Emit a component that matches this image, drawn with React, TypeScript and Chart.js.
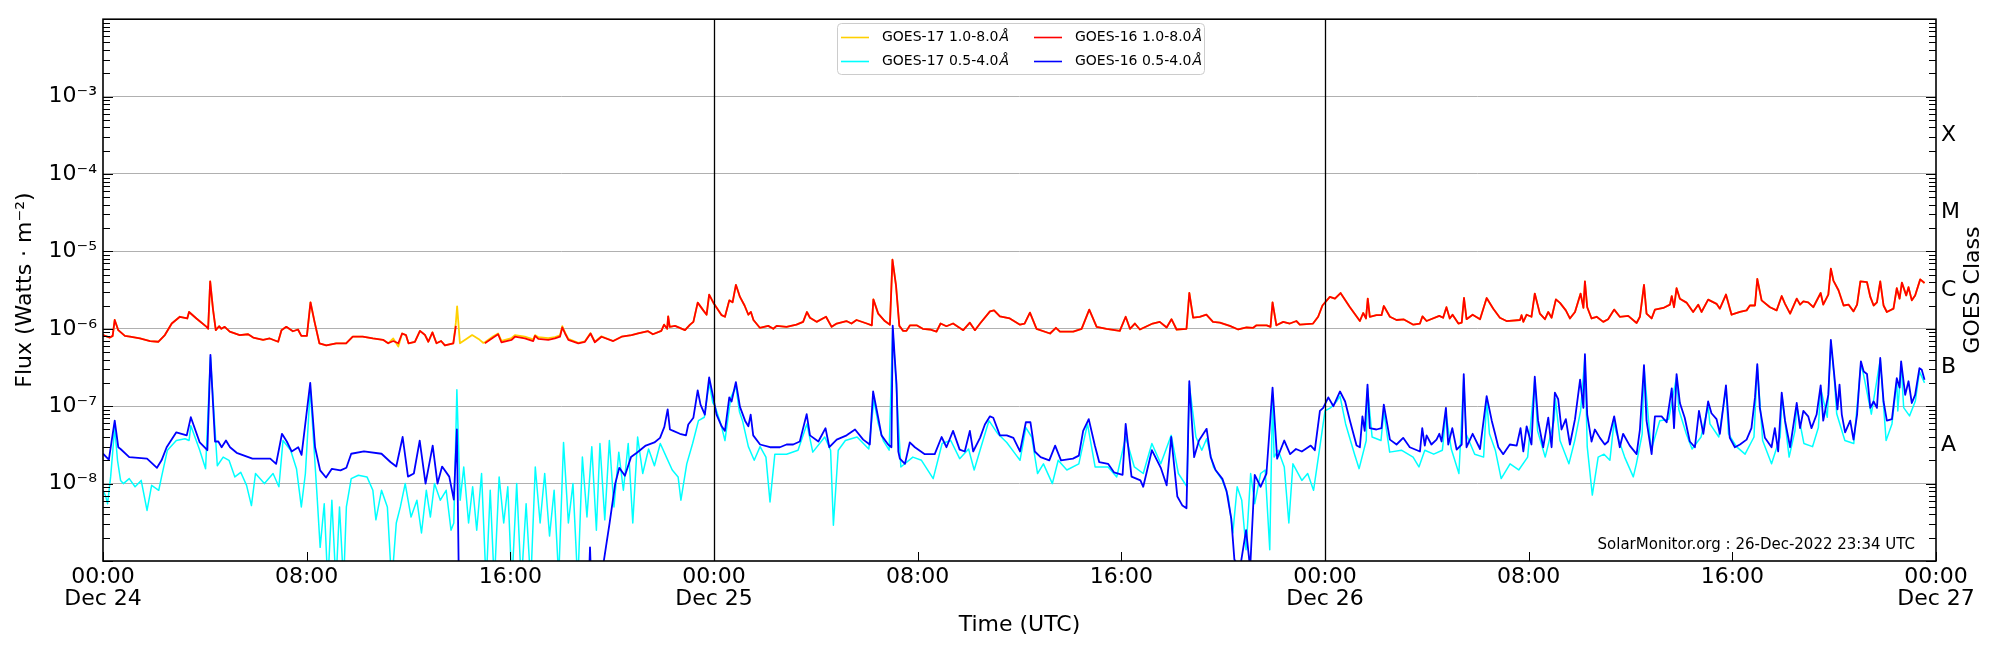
import React, { useEffect, useRef } from 'react';
import { Chart, registerables } from 'chart.js';

Chart.register(...registerables);

// hours since 2022-12-24 00:00 UTC, long channel (1.0-8.0 A)
const longTimes = [
  0, 0.27, 0.38, 0.46, 0.6, 0.86, 1.06, 1.45, 1.85, 2.17,
  2.43, 2.7, 3.02, 3.31, 3.38, 3.67, 4.07, 4.13, 4.21, 4.32,
  4.43, 4.56, 4.65, 4.78, 4.98, 5.37, 5.7, 5.9, 6.29, 6.55,
  6.88, 7.01, 7.2, 7.46, 7.66, 7.79, 8.01, 8.15, 8.31, 8.5,
  8.77, 9.16, 9.55, 9.81, 10.2, 10.6, 11.0, 11.2, 11.4, 11.6,
  11.75, 11.9, 12.0, 12.25, 12.45, 12.65, 12.78, 12.94, 13.1, 13.28,
  13.43, 13.76, 13.86, 13.91, 14.02, 14.3, 14.5, 14.75, 14.93, 15.0,
  15.33, 15.52, 15.65, 16.05, 16.18, 16.57, 16.9, 16.97, 17.1, 17.49,
  17.75, 17.95, 18.04, 18.15, 18.28, 18.67, 18.93, 19.15, 19.32, 19.58,
  20.04, 20.37, 20.76, 21.02, 21.41, 21.6, 21.93, 22.04, 22.16, 22.2,
  22.26, 22.47, 22.86, 23.06, 23.19, 23.36, 23.58, 23.71, 23.81, 24.0,
  24.3, 24.43, 24.6, 24.73, 24.86, 25.02, 25.2, 25.35, 25.45, 25.55,
  25.8, 26.13, 26.33, 26.46, 26.85, 27.24, 27.5, 27.65, 27.77, 28.03,
  28.4, 28.62, 28.82, 29.2, 29.4, 29.6, 30.0, 30.2, 30.26, 30.45,
  30.71, 30.91, 31.01, 31.15, 31.28, 31.43, 31.56, 31.7, 31.96, 32.2,
  32.48, 32.74, 32.9, 33.13, 33.39, 33.79, 34.05, 34.25, 34.45, 34.84,
  35.0, 35.23, 35.62, 36.02, 36.2, 36.41, 36.67, 37.2, 37.43, 37.59,
  38.11, 38.44, 38.74, 39.03, 39.42, 39.94, 40.17, 40.34, 40.53, 40.73,
  41.23, 41.51, 41.78, 41.97, 42.17, 42.56, 42.67, 42.82, 43.08, 43.34,
  43.6, 43.87, 44.26, 44.59, 44.92, 45.18, 45.31, 45.71, 45.86, 45.94,
  46.09, 46.36, 46.62, 46.88, 47.01, 47.53, 47.73, 47.9, 48.19, 48.39,
  48.61, 48.98, 49.37, 49.5, 49.61, 49.68, 49.76, 50.02, 50.22, 50.31,
  50.55, 50.81, 51.1, 51.47, 51.73, 51.83, 51.99, 52.49, 52.64, 52.77,
  52.9, 53.01, 53.24, 53.37, 53.46, 53.56, 53.8, 54.09, 54.35, 54.61,
  54.87, 55.13, 55.66, 55.72, 55.79, 55.92, 56.11, 56.24, 56.44, 56.64,
  56.77, 56.9, 57.07, 57.23, 57.46, 57.62, 57.82, 58.04, 58.15, 58.21,
  58.3, 58.47, 58.67, 58.93, 59.12, 59.36, 59.58, 59.91, 60.24, 60.37,
  60.53, 60.63, 60.83, 60.96, 61.29, 61.55, 61.62, 61.71, 61.81, 61.94,
  62.2, 62.46, 62.66, 62.79, 63.05, 63.38, 63.51, 63.75, 63.97, 64.3,
  64.56, 64.69, 64.89, 64.98, 65.15, 65.48, 65.74, 65.94, 66.07, 66.27,
  66.53, 66.66, 66.79, 66.98, 67.18, 67.47, 67.57, 67.77, 67.87, 67.97,
  68.17, 68.37, 68.57, 68.76, 68.9, 69.03, 69.29, 69.42, 69.55, 69.68,
  69.81, 69.94, 70.07, 70.33, 70.46, 70.57, 70.66, 70.83, 70.92, 71.05,
  71.18, 71.38, 71.55,
];

const goes16Long = [
  8.3e-7, 7.7e-7, 8.1e-7, 1.3e-6, 9.6e-7, 8.1e-7, 7.9e-7, 7.5e-7, 6.95e-7, 6.8e-7,
  8.3e-7, 1.17e-6, 1.43e-6, 1.36e-6, 1.65e-6, 1.36e-6, 1.06e-6, 1.0e-6, 4.1e-6, 1.8e-6,
  9.6e-7, 1.08e-6, 1.0e-6, 1.06e-6, 9.2e-7, 8.3e-7, 8.5e-7, 7.7e-7, 7.2e-7, 7.5e-7,
  6.8e-7, 9.6e-7, 1.06e-6, 9.3e-7, 9.8e-7, 8.1e-7, 8.1e-7, 2.2e-6, 1.23e-6, 6.5e-7,
  6.1e-7, 6.5e-7, 6.5e-7, 7.9e-7, 7.9e-7, 7.5e-7, 7.2e-7, 6.5e-7, 6.95e-7, 6.5e-7,
  8.7e-7, 8.3e-7, 6.5e-7, 6.8e-7, 9.4e-7, 8.3e-7, 6.8e-7, 9.0e-7, 6.5e-7, 6.95e-7,
  6.1e-7, 6.5e-7, 1.09e-6, null, null, null, null, null, null, 6.5e-7,
  7.7e-7, 8.5e-7, 6.7e-7, 7.2e-7, 7.9e-7, 7.5e-7, 6.95e-7, 8.1e-7, 7.4e-7, 7.2e-7,
  7.5e-7, 7.9e-7, 1.04e-6, 8.7e-7, 7.2e-7, 6.5e-7, 6.8e-7, 8.7e-7, 6.7e-7, 7.9e-7,
  6.95e-7, 7.9e-7, 8.3e-7, 8.7e-7, 9.3e-7, 8.5e-7, 9.4e-7, 1.13e-6, 1.0e-6, 1.45e-6,
  1.06e-6, 1.09e-6, 9.6e-7, 1.13e-6, 1.23e-6, 2.18e-6, 1.73e-6, 1.52e-6, 2.77e-6, 2.1e-6,
  1.5e-6, 1.43e-6, 2.33e-6, 2.2e-6, 3.7e-6, 2.58e-6, 2.0e-6, 1.52e-6, 1.65e-6, 1.3e-6,
  1.03e-6, 1.09e-6, 1.0e-6, 1.09e-6, 1.06e-6, 1.13e-6, 1.23e-6, 1.65e-6, 1.39e-6, 1.23e-6,
  1.43e-6, 1.06e-6, 1.17e-6, 1.26e-6, 1.17e-6, 1.3e-6, 1.17e-6, 1.11e-6, 2.4e-6, 1.57e-6,
  1.26e-6, 1.13e-6, 7.8e-6, 3.6e-6, 1.09e-6, 9.4e-7, 9.4e-7, 1.11e-6, 1.11e-6, 1.0e-6,
  9.8e-7, 9.2e-7, 1.17e-6, 1.08e-6, 1.17e-6, 9.6e-7, 1.2e-6, 9.6e-7, 1.17e-6, 1.68e-6,
  1.73e-6, 1.45e-6, 1.36e-6, 1.13e-6, 1.17e-6, 1.62e-6, 1.0e-6, 8.7e-7, 1.03e-6, 9.2e-7,
  9.2e-7, 1.0e-6, 1.77e-6, 1.06e-6, 1.0e-6, 9.4e-7, 1.43e-6, 1.0e-6, 1.17e-6, 9.8e-7,
  1.17e-6, 1.23e-6, 1.04e-6, 1.33e-6, 9.8e-7, 1.0e-6, 2.9e-6, 1.39e-6, 1.43e-6, 1.52e-6,
  1.23e-6, 1.2e-6, 1.09e-6, 9.8e-7, 1.04e-6, 1.03e-6, 1.11e-6, 1.11e-6, 1.06e-6, 2.2e-6,
  1.11e-6, 1.23e-6, 1.17e-6, 1.26e-6, 1.13e-6, 1.17e-6, 1.43e-6, 2.0e-6, 2.58e-6, 2.45e-6,
  2.9e-6, 1.9e-6, 1.26e-6, 1.6e-6, 1.36e-6, 2.45e-6, 1.43e-6, 1.5e-6, 1.5e-6, 1.97e-6,
  1.43e-6, 1.3e-6, 1.32e-6, 1.13e-6, 1.17e-6, 1.45e-6, 1.26e-6, 1.47e-6, 1.39e-6, 1.9e-6,
  1.36e-6, 1.52e-6, 1.17e-6, 1.2e-6, 2.5e-6, 1.33e-6, 1.52e-6, 1.33e-6, 2.5e-6, 1.82e-6,
  1.39e-6, 1.26e-6, 1.3e-6, 1.5e-6, 1.23e-6, 1.52e-6, 1.43e-6, 2.85e-6, 1.57e-6, 1.33e-6,
  1.65e-6, 1.39e-6, 2.4e-6, 2.16e-6, 1.73e-6, 1.36e-6, 1.65e-6, 2.85e-6, 1.86e-6, 4.1e-6,
  1.9e-6, 1.36e-6, 1.43e-6, 1.23e-6, 1.33e-6, 1.77e-6, 1.43e-6, 1.47e-6, 1.19e-6, 1.43e-6,
  3.7e-6, 1.57e-6, 1.36e-6, 1.77e-6, 1.86e-6, 2.05e-6, 2.65e-6, 1.9e-6, 3.35e-6, 2.45e-6,
  2.18e-6, 1.65e-6, 2.05e-6, 1.65e-6, 2.38e-6, 2.1e-6, 1.82e-6, 2.77e-6, 1.52e-6, 1.65e-6,
  1.73e-6, 2.0e-6, 2.0e-6, 4.4e-6, 2.33e-6, 1.9e-6, 1.73e-6, 2.65e-6, 2.1e-6, 1.57e-6,
  2.45e-6, 2.05e-6, 2.26e-6, 2.2e-6, 1.9e-6, 2.9e-6, 2.05e-6, 2.77e-6, 6.0e-6, 4.2e-6,
  3.15e-6, 2.0e-6, 2.05e-6, 1.68e-6, 2.05e-6, 4.1e-6, 4.0e-6, 2.58e-6, 2.0e-6, 2.2e-6,
  4.1e-6, 2.0e-6, 1.65e-6, 1.82e-6, 3.35e-6, 2.45e-6, 3.95e-6, 2.7e-6, 3.45e-6, 2.33e-6,
  2.7e-6, 4.35e-6, 3.9e-6,
];

const goes17Long = [
  8.3e-7, 7.7e-7, 8.1e-7, 1.3e-6, 9.6e-7, 8.1e-7, 7.9e-7, 7.5e-7, 6.95e-7, 6.8e-7,
  8.3e-7, 1.17e-6, 1.43e-6, 1.36e-6, 1.65e-6, 1.36e-6, 1.06e-6, 1.0e-6, 4.1e-6, 1.8e-6,
  9.6e-7, 1.08e-6, 1.0e-6, 1.06e-6, 9.2e-7, 8.3e-7, 8.5e-7, 7.7e-7, 7.2e-7, 7.5e-7,
  6.8e-7, 9.6e-7, 1.06e-6, 9.3e-7, 9.8e-7, 8.1e-7, 8.1e-7, 2.2e-6, 1.23e-6, 6.5e-7,
  6.1e-7, 6.5e-7, 6.5e-7, 7.9e-7, 7.9e-7, 7.5e-7, 7.2e-7, 6.5e-7, 7.5e-7, 5.9e-7,
  8.7e-7, 8.3e-7, 6.5e-7, 6.8e-7, 9.4e-7, 8.3e-7, 6.8e-7, 9.0e-7, 6.5e-7, 6.95e-7,
  6.1e-7, 6.5e-7, 1.2e-6, 1.95e-6, 6.5e-7, 7.5e-7, 8.3e-7, 7.4e-7, 6.6e-7, 6.7e-7,
  8.0e-7, 8.7e-7, 7.0e-7, 7.6e-7, 8.3e-7, 7.9e-7, 7.3e-7, 8.3e-7, 7.8e-7, 7.6e-7,
  7.8e-7, 8.2e-7, 1.08e-6, 8.9e-7, 7.4e-7, 6.6e-7, 6.9e-7, 8.8e-7, 6.8e-7, 8.0e-7,
  6.95e-7, 7.9e-7, 8.3e-7, 8.7e-7, 9.3e-7, 8.5e-7, 9.4e-7, 1.13e-6, 1.0e-6, 1.45e-6,
  1.06e-6, 1.09e-6, 9.6e-7, 1.13e-6, 1.23e-6, 2.18e-6, 1.73e-6, 1.52e-6, 2.77e-6, 2.1e-6,
  1.5e-6, 1.43e-6, 2.33e-6, 2.2e-6, 3.7e-6, 2.58e-6, 2.0e-6, 1.52e-6, 1.65e-6, 1.3e-6,
  1.03e-6, 1.09e-6, 1.0e-6, 1.09e-6, 1.06e-6, 1.13e-6, 1.23e-6, 1.65e-6, 1.39e-6, 1.23e-6,
  1.43e-6, 1.06e-6, 1.17e-6, 1.26e-6, 1.17e-6, 1.3e-6, 1.17e-6, 1.11e-6, 2.4e-6, 1.57e-6,
  1.26e-6, 1.13e-6, 7.8e-6, 3.6e-6, 1.09e-6, 9.4e-7, 9.4e-7, 1.11e-6, 1.11e-6, 1.0e-6,
  9.8e-7, 9.2e-7, 1.17e-6, 1.08e-6, 1.17e-6, 9.6e-7, 1.2e-6, 9.6e-7, 1.17e-6, 1.68e-6,
  1.73e-6, 1.45e-6, 1.36e-6, 1.13e-6, 1.17e-6, 1.62e-6, 1.0e-6, 8.7e-7, 1.03e-6, 9.2e-7,
  9.2e-7, 1.0e-6, 1.77e-6, 1.06e-6, 1.0e-6, 9.4e-7, 1.43e-6, 1.0e-6, 1.17e-6, 9.8e-7,
  1.17e-6, 1.23e-6, 1.04e-6, 1.33e-6, 9.8e-7, 1.0e-6, 2.9e-6, 1.39e-6, 1.43e-6, 1.52e-6,
  1.23e-6, 1.2e-6, 1.09e-6, 9.8e-7, 1.04e-6, 1.03e-6, 1.11e-6, 1.11e-6, 1.06e-6, 2.2e-6,
  1.11e-6, 1.23e-6, 1.17e-6, 1.26e-6, 1.13e-6, 1.17e-6, 1.43e-6, 2.0e-6, 2.58e-6, 2.45e-6,
  2.9e-6, 1.9e-6, 1.26e-6, 1.6e-6, 1.36e-6, 2.45e-6, 1.43e-6, 1.5e-6, 1.5e-6, 1.97e-6,
  1.43e-6, 1.3e-6, 1.32e-6, 1.13e-6, 1.17e-6, 1.45e-6, 1.26e-6, 1.47e-6, 1.39e-6, 1.9e-6,
  1.36e-6, 1.52e-6, 1.17e-6, 1.2e-6, 2.5e-6, 1.33e-6, 1.52e-6, 1.33e-6, 2.5e-6, 1.82e-6,
  1.39e-6, 1.26e-6, 1.3e-6, 1.5e-6, 1.23e-6, 1.52e-6, 1.43e-6, 2.85e-6, 1.57e-6, 1.33e-6,
  1.65e-6, 1.39e-6, 2.4e-6, 2.16e-6, 1.73e-6, 1.36e-6, 1.65e-6, 2.85e-6, 1.86e-6, 4.1e-6,
  1.9e-6, 1.36e-6, 1.43e-6, 1.23e-6, 1.33e-6, 1.77e-6, 1.43e-6, 1.47e-6, 1.19e-6, 1.43e-6,
  3.7e-6, 1.57e-6, 1.36e-6, 1.77e-6, 1.86e-6, 2.05e-6, 2.65e-6, 1.9e-6, 3.35e-6, 2.45e-6,
  2.18e-6, 1.65e-6, 2.05e-6, 1.65e-6, 2.38e-6, 2.1e-6, 1.82e-6, 2.77e-6, 1.52e-6, 1.65e-6,
  1.73e-6, 2.0e-6, 2.0e-6, 4.4e-6, 2.33e-6, 1.9e-6, 1.73e-6, 2.65e-6, 2.1e-6, 1.57e-6,
  2.45e-6, 2.05e-6, 2.26e-6, 2.2e-6, 1.9e-6, 2.9e-6, 2.05e-6, 2.77e-6, 6.0e-6, 4.2e-6,
  3.15e-6, 2.0e-6, 2.05e-6, 1.68e-6, 2.05e-6, 4.1e-6, 4.0e-6, 2.58e-6, 2.0e-6, 2.2e-6,
  4.1e-6, 2.0e-6, 1.65e-6, 1.82e-6, 3.35e-6, 2.45e-6, 3.95e-6, 2.7e-6, 3.45e-6, 2.33e-6,
  2.7e-6, 4.35e-6, 3.9e-6,
];

// GOES-16 short channel (0.5-4.0 A)
const goes16ShortTimes = [
  0, 0.23, 0.46, 0.6, 0.69, 1.03, 1.73, 2.12, 2.3, 2.5,
  2.88, 3.29, 3.45, 3.8, 4.1, 4.22, 4.4, 4.53, 4.66, 4.83,
  4.99, 5.25, 5.87, 6.57, 6.8, 7.03, 7.22, 7.41, 7.67, 7.8,
  8.14, 8.33, 8.53, 8.76, 8.99, 9.33, 9.56, 9.75, 10.25, 10.94,
  11.29, 11.52, 11.77, 11.98, 12.21, 12.44, 12.67, 12.95, 13.14, 13.32,
  13.6, 13.71, 13.78, 13.9, 13.98, 14.8, 16.5, 18.2, 19.08, 19.13,
  19.18, 19.6, 19.9, 20.12, 20.28, 20.5, 20.74, 20.97, 21.32, 21.66,
  21.88, 22.05, 22.18, 22.27, 22.4, 22.66, 22.9, 22.99, 23.19, 23.36,
  23.47, 23.64, 23.81, 23.95, 24.1, 24.3, 24.43, 24.6, 24.69, 24.86,
  25.02, 25.22, 25.35, 25.44, 25.54, 25.81, 26.2, 26.59, 26.85, 27.11,
  27.37, 27.64, 27.77, 28.1, 28.38, 28.53, 28.82, 29.21, 29.54, 29.86,
  30.12, 30.25, 30.45, 30.58, 30.84, 30.97, 31.02, 31.1, 31.17, 31.24,
  31.3, 31.5, 31.69, 31.89, 32.28, 32.67, 32.94, 33.13, 33.39, 33.65,
  33.85, 34.05, 34.18, 34.45, 34.64, 34.84, 34.97, 35.23, 35.5, 35.76,
  36.02, 36.25, 36.43, 36.6, 36.83, 37.17, 37.4, 37.63, 38.1, 38.33,
  38.5, 38.72, 38.96, 39.13, 39.48, 39.71, 40.05, 40.17, 40.4, 40.75,
  40.86, 41.2, 41.55, 41.78, 41.96, 42.2, 42.4, 42.56, 42.67, 42.86,
  43.05, 43.35, 43.51, 43.7, 43.97, 44.13, 44.32, 44.44, 44.66, 44.9,
  45.06, 45.24, 45.47, 45.7, 45.94, 46.12, 46.4, 46.63, 46.86, 47.09,
  47.44, 47.6, 47.8, 47.93, 48.13, 48.33, 48.59, 48.79, 48.98, 49.24,
  49.37, 49.47, 49.56, 49.67, 49.76, 50.02, 50.22, 50.31, 50.55, 50.81,
  51.07, 51.33, 51.73, 51.82, 51.92, 51.99, 52.18, 52.38, 52.49, 52.58,
  52.75, 52.84, 53.0, 53.17, 53.37, 53.45, 53.56, 53.8, 54.09, 54.35,
  54.55, 54.68, 54.81, 55.0, 55.26, 55.53, 55.68, 55.79, 55.92, 56.11,
  56.24, 56.37, 56.57, 56.77, 56.9, 57.03, 57.16, 57.29, 57.46, 57.62,
  57.82, 58.02, 58.15, 58.21, 58.3, 58.47, 58.6, 58.8, 58.99, 59.12,
  59.36, 59.58, 59.71, 59.97, 60.24, 60.37, 60.53, 60.63, 60.83, 60.96,
  61.22, 61.42, 61.62, 61.71, 61.81, 61.94, 62.13, 62.33, 62.53, 62.69,
  62.86, 63.05, 63.18, 63.38, 63.51, 63.75, 63.9, 64.1, 64.3, 64.56,
  64.75, 64.89, 64.98, 65.08, 65.28, 65.54, 65.67, 65.8, 65.94, 66.07,
  66.27, 66.53, 66.66, 66.79, 66.98, 67.11, 67.31, 67.47, 67.57, 67.77,
  67.87, 68.0, 68.13, 68.21, 68.3, 68.43, 68.63, 68.76, 68.9, 69.0,
  69.05, 69.16, 69.29, 69.42, 69.55, 69.68, 69.81, 69.94, 70.07, 70.27,
  70.46, 70.57, 70.63, 70.79, 70.92, 71.05, 71.18, 71.35, 71.44, 71.55,
];

const goes16Short = [
  2.43e-8, 2.04e-8, 6.5e-8, 2.95e-8, 2.8e-8, 2.2e-8, 2.1e-8, 1.6e-8, 2.0e-8, 2.95e-8,
  4.6e-8, 4.2e-8, 7.2e-8, 3.4e-8, 2.7e-8, 4.6e-7, 3.5e-8, 3.5e-8, 2.95e-8, 3.6e-8,
  2.95e-8, 2.5e-8, 2.1e-8, 2.1e-8, 1.8e-8, 4.4e-8, 3.5e-8, 2.6e-8, 2.95e-8, 2.35e-8,
  2.0e-7, 2.95e-8, 1.48e-8, 1.2e-8, 1.55e-8, 1.48e-8, 1.6e-8, 2.43e-8, 2.6e-8, 2.43e-8,
  1.9e-8, 1.66e-8, 4.0e-8, 1.23e-8, 1.35e-8, 3.6e-8, 1.0e-8, 3.1e-8, 1.0e-8, 1.66e-8,
  1.23e-8, 8.1e-9, 6.2e-9, 5.0e-8, 5e-10, 5e-10, 5e-10, 5e-10, 5e-10, 1.5e-9,
  5e-10, 7e-10, 3.1e-9, 1.0e-8, 1.6e-8, 1.26e-8, 2.2e-8, 2.5e-8, 3.1e-8, 3.4e-8,
  3.9e-8, 5.4e-8, 9.1e-8, 5.0e-8, 4.8e-8, 4.4e-8, 4.2e-8, 5.8e-8, 7.1e-8, 1.6e-7,
  1.05e-7, 7.8e-8, 2.35e-7, 1.4e-7, 7.8e-8, 5.5e-8, 4.8e-8, 1.3e-7, 1.15e-7, 2.05e-7,
  9.8e-8, 6.5e-8, 5.5e-8, 7.8e-8, 4.2e-8, 3.2e-8, 2.95e-8, 2.95e-8, 3.2e-8, 3.2e-8,
  3.5e-8, 7.9e-8, 4.2e-8, 3.5e-8, 5.2e-8, 2.95e-8, 3.7e-8, 4.2e-8, 5.0e-8, 3.7e-8,
  3.2e-8, 1.55e-7, 7.1e-8, 4.2e-8, 3.2e-8, 2.95e-8, 1.1e-6, 4.2e-7, 1.9e-7, 2.6e-8,
  2.1e-8, 1.8e-8, 3.4e-8, 2.95e-8, 2.4e-8, 2.4e-8, 4.0e-8, 2.95e-8, 4.8e-8, 2.75e-8,
  2.6e-8, 4.8e-8, 2.6e-8, 3.9e-8, 5.8e-8, 7.4e-8, 7.1e-8, 4.2e-8, 4.2e-8, 3.9e-8,
  2.6e-8, 6.2e-8, 6.2e-8, 2.6e-8, 2.2e-8, 2.0e-8, 3.1e-8, 2.0e-8, 2.1e-8, 2.3e-8,
  4.8e-8, 6.8e-8, 3.1e-8, 1.9e-8, 1.8e-8, 1.4e-8, 1.3e-8, 5.9e-8, 1.23e-8, 1.1e-8,
  9.1e-9, 2.7e-8, 1.6e-8, 9.5e-9, 4.0e-8, 6.8e-9, 5.2e-9, 4.8e-9, 2.1e-7, 2.2e-8,
  3.6e-8, 5.1e-8, 2.2e-8, 1.5e-8, 1.15e-8, 8.1e-9, 3.5e-9, 1.05e-9, 8e-10, 2.5e-9,
  8e-10, 1.3e-8, 9.1e-9, 1.35e-8, 1.74e-7, 2.1e-8, 3.6e-8, 2.4e-8, 2.8e-8, 2.6e-8,
  3.1e-8, 2.7e-8, 8.7e-8, 9.5e-8, 1.3e-7, 1.0e-7, 1.55e-7, 1.15e-7, 6.5e-8, 3.1e-8,
  2.95e-8, 7.4e-8, 4.8e-8, 1.9e-7, 5.2e-8, 5.0e-8, 5.2e-8, 1.05e-7, 3.7e-8, 3.2e-8,
  3.9e-8, 2.95e-8, 2.6e-8, 5.2e-8, 3.1e-8, 4.2e-8, 3.2e-8, 3.7e-8, 4.4e-8, 3.5e-8,
  9.5e-8, 3.2e-8, 5.2e-8, 2.75e-8, 3.2e-8, 2.6e-7, 2.95e-8, 4.4e-8, 2.8e-8, 1.35e-7,
  6.5e-8, 4.4e-8, 2.95e-8, 2.4e-8, 3.2e-8, 3.1e-8, 5.2e-8, 2.6e-8, 5.5e-8, 3.2e-8,
  2.4e-7, 6.5e-8, 2.95e-8, 7.1e-8, 2.95e-8, 1.5e-7, 1.23e-7, 5.0e-8, 6.8e-8, 3.2e-8,
  6.8e-8, 2.2e-7, 9.5e-8, 4.7e-7, 7.8e-8, 3.5e-8, 5.0e-8, 3.9e-8, 3.2e-8, 3.5e-8,
  7.4e-8, 2.95e-8, 4.4e-8, 3.1e-8, 2.4e-8, 5.0e-8, 3.4e-7, 6.5e-8, 2.4e-8, 7.4e-8,
  7.4e-8, 6.2e-8, 1.7e-7, 5.2e-8, 2.6e-7, 1.1e-7, 7.1e-8, 3.5e-8, 2.95e-8, 8.7e-8,
  4.4e-8, 1.15e-7, 8.1e-8, 6.8e-8, 4.4e-8, 1.86e-7, 3.9e-8, 2.95e-8, 3.2e-8, 3.7e-8,
  5.2e-8, 1.3e-7, 3.5e-7, 9.5e-8, 3.9e-8, 2.95e-8, 5.2e-8, 2.6e-8, 1.5e-7, 6.5e-8,
  2.95e-8, 1.1e-7, 5.2e-8, 8.7e-8, 7.4e-8, 5.2e-8, 7.8e-8, 1.86e-7, 6.5e-8, 1.4e-7,
  7.2e-7, 2.6e-7, 9.1e-8, 1.9e-7, 7.8e-8, 4.6e-8, 6.5e-8, 3.7e-8, 7.8e-8, 2.3e-7,
  3.8e-7, 2.8e-7, 2.6e-7, 9.5e-8, 1.15e-7, 9.5e-8, 4.2e-7, 1.15e-7, 6.5e-8, 6.8e-8,
  2.3e-7, 1.74e-7, 3.8e-7, 1.4e-7, 2.1e-7, 1.1e-7, 1.4e-7, 3.1e-7, 2.95e-7, 2.2e-7,
];

// GOES-17 short channel (0.5-4.0 A)
const goes17ShortTimes = [
  0, 0.11, 0.18, 0.3, 0.46, 0.57, 0.69, 0.8, 1.03, 1.26,
  1.5, 1.73, 1.91, 2.19, 2.3, 2.53, 2.88, 3.22, 3.38, 3.45,
  3.8, 4.03, 4.22, 4.49, 4.72, 4.95, 5.18, 5.41, 5.64, 5.83,
  5.99, 6.34, 6.68, 6.91, 7.07, 7.37, 7.6, 7.79, 7.95, 8.14,
  8.41, 8.53, 8.69, 8.83, 8.99, 9.15, 9.29, 9.45, 9.56, 9.75,
  10.03, 10.37, 10.6, 10.72, 10.94, 11.17, 11.34, 11.52, 11.68, 11.87,
  12.1, 12.33, 12.51, 12.7, 12.86, 13.02, 13.25, 13.48, 13.67, 13.78,
  13.9, 14.03, 14.17, 14.36, 14.52, 14.68, 14.87, 15.05, 15.21, 15.37,
  15.56, 15.74, 15.9, 16.06, 16.25, 16.43, 16.62, 16.8, 16.98, 17.17,
  17.35, 17.54, 17.72, 17.9, 18.09, 18.28, 18.46, 18.65, 18.83, 19.01,
  19.2, 19.38, 19.52, 19.71, 19.89, 20.07, 20.26, 20.44, 20.63, 20.81,
  21.0, 21.2, 21.43, 21.66, 21.89, 22.13, 22.36, 22.59, 22.7, 22.93,
  23.16, 23.39, 23.62, 23.81, 23.95, 24.04, 24.27, 24.43, 24.66, 24.86,
  25.0, 25.12, 25.35, 25.58, 25.81, 26.04, 26.2, 26.39, 26.85, 27.3,
  27.65, 27.88, 28.35, 28.58, 28.69, 28.88, 29.16, 29.62, 30.08, 30.28,
  30.45, 30.65, 30.88, 31.02, 31.1, 31.17, 31.34, 31.81, 32.15, 32.61,
  32.96, 33.3, 33.65, 34.0, 34.22, 34.45, 34.8, 35.15, 35.5, 35.84,
  36.02, 36.25, 36.48, 36.71, 36.94, 37.29, 37.52, 37.86, 38.33, 38.67,
  38.97, 39.48, 39.82, 40.17, 40.51, 40.86, 41.2, 41.55, 41.96, 42.24,
  42.58, 42.67, 42.93, 43.16, 43.35, 43.62, 43.97, 44.2, 44.38, 44.55,
  44.73, 44.9, 45.08, 45.24, 45.47, 45.65, 45.83, 45.94, 46.0, 46.16,
  46.4, 46.58, 46.74, 47.09, 47.32, 47.55, 47.78, 48.0, 48.23, 48.47,
  48.59, 48.81, 49.16, 49.34, 49.62, 49.67, 49.85, 50.2, 50.31, 50.54,
  51.0, 51.46, 51.69, 51.92, 52.27, 52.61, 52.75, 52.96, 53.26, 53.45,
  53.54, 53.88, 54.23, 54.35, 54.46, 54.69, 54.92, 55.27, 55.61, 55.96,
  56.24, 56.35, 56.65, 57.0, 57.05, 57.23, 57.58, 57.81, 58.04, 58.21,
  58.3, 58.5, 58.73, 58.96, 59.19, 59.36, 59.42, 59.77, 60.11, 60.23,
  60.46, 60.53, 60.81, 61.15, 61.5, 61.81, 61.9, 62.19, 62.42, 62.77,
  63.05, 63.12, 63.47, 63.75, 63.85, 64.16, 64.5, 64.85, 64.98, 65.19,
  65.54, 65.88, 65.95, 66.23, 66.46, 66.53, 66.81, 67.15, 67.38, 67.47,
  67.73, 67.87, 68.0, 68.1, 68.42, 68.77, 69.05, 69.16, 69.46, 69.81,
  70.04, 70.27, 70.46, 70.5, 70.63, 70.73, 70.96, 71.19, 71.35, 71.55,
];

const goes17Short = [
  8.2e-9, 6.8e-9, 5.5e-9, 1.22e-8, 5.3e-8, 2.0e-8, 1.1e-8, 1.0e-8, 1.16e-8, 9.1e-9,
  1.1e-8, 4.5e-9, 9.5e-9, 8.2e-9, 1.22e-8, 2.7e-8, 3.6e-8, 3.8e-8, 3.6e-8, 5.6e-8,
  2.7e-8, 1.56e-8, 4.3e-7, 1.7e-8, 2.2e-8, 2.0e-8, 1.22e-8, 1.4e-8, 9.5e-9, 5.2e-9,
  1.35e-8, 1.0e-8, 1.35e-8, 9.1e-9, 3.6e-8, 2.7e-8, 1.56e-8, 5.0e-9, 1.35e-8, 1.7e-7,
  6.8e-9, 1.5e-9, 5.5e-9, 5e-10, 6.1e-9, 5e-10, 5.0e-9, 5e-10, 5.0e-9, 1.16e-8,
  1.28e-8, 1.22e-8, 8.2e-9, 3.4e-9, 8.2e-9, 5.0e-9, 5e-10, 3.1e-9, 5.0e-9, 1.0e-8,
  3.7e-9, 6.1e-9, 2.3e-9, 8.2e-9, 3.7e-9, 1.0e-8, 6.1e-9, 8.2e-9, 2.5e-9, 3.1e-9,
  1.63e-7, 6.1e-9, 1.64e-8, 3.1e-9, 9.1e-9, 2.5e-9, 1.35e-8, 5e-10, 8.2e-9, 5e-10,
  1.22e-8, 3.1e-9, 9.1e-9, 5e-10, 1.0e-8, 5e-10, 5.5e-9, 5e-10, 1.64e-8, 3.1e-9,
  1.35e-8, 2.1e-9, 8.2e-9, 6e-10, 3.4e-8, 3.1e-9, 1.0e-8, 5e-10, 2.2e-8, 3.7e-9,
  3.0e-8, 2.5e-9, 3.3e-8, 3.4e-9, 3.6e-8, 5.0e-9, 2.55e-8, 8.2e-9, 3.3e-8, 3.1e-9,
  4.0e-8, 1.35e-8, 2.8e-8, 1.7e-8, 3.3e-8, 2.2e-8, 1.5e-8, 1.22e-8, 6.1e-9, 1.8e-8,
  3.3e-8, 6.5e-8, 7.2e-8, 2.0e-7, 1.11e-7, 1.0e-7, 5.9e-8, 3.6e-8, 1.29e-7, 1.8e-7,
  8.5e-8, 6.5e-8, 3.0e-8, 2.0e-8, 3.0e-8, 2.2e-8, 5.8e-9, 2.4e-8, 2.4e-8, 2.7e-8,
  5.9e-8, 2.55e-8, 4.0e-8, 2.7e-8, 2.9e-9, 2.7e-8, 3.6e-8, 4.0e-8, 2.8e-8, 1.2e-7,
  6.0e-8, 3.6e-8, 2.7e-8, 1.0e-6, 3.8e-7, 1.6e-7, 1.64e-8, 2.2e-8, 2.0e-8, 1.16e-8,
  3.3e-8, 3.6e-8, 2.1e-8, 2.8e-8, 1.5e-8, 2.7e-8, 6.5e-8, 4.4e-8, 3.4e-8, 2.4e-8,
  2.0e-8, 5.3e-8, 4.0e-8, 1.35e-8, 1.8e-8, 1.0e-8, 2.0e-8, 1.5e-8, 1.8e-8, 5.9e-8,
  1.64e-8, 1.64e-8, 1.22e-8, 4.0e-8, 1.64e-8, 1.35e-8, 3.3e-8, 1.8e-8, 4.2e-8, 1.35e-8,
  9.1e-9, 1.9e-7, 4.0e-8, 2.7e-8, 3.8e-8, 1.64e-8, 1.1e-8, 6.8e-9, 2.3e-9, 9.1e-9,
  6.1e-9, 1.4e-9, 1.35e-8, 5.5e-9, 1.35e-8, 1.5e-8, 1.4e-9, 1.4e-7, 2.2e-8, 2.7e-8,
  1.64e-8, 3.1e-9, 1.8e-8, 1.1e-8, 1.35e-8, 8.2e-9, 2.7e-8, 8.7e-8, 9.6e-8, 1.17e-7,
  1.35e-7, 5.9e-8, 2.4e-8, 1.56e-8, 3.6e-8, 1.7e-7, 4.0e-8, 3.6e-8, 8.5e-8, 2.55e-8,
  2.7e-8, 2.2e-8, 1.64e-8, 2.7e-8, 2.4e-8, 2.7e-8, 8.0e-8, 2.8e-8, 1.35e-8, 2.3e-7,
  4.4e-8, 2.4e-8, 2.2e-8, 1.2e-7, 4.4e-8, 2.7e-8, 1.16e-8, 1.8e-8, 1.5e-8, 2.2e-8,
  2.2e-7, 4.8e-8, 2.2e-8, 6.5e-8, 1.25e-7, 3.6e-8, 1.8e-8, 3.6e-8, 8.7e-8, 4.4e-7,
  3.0e-8, 7.1e-9, 2.2e-8, 2.4e-8, 2.0e-8, 6.5e-8, 4.8e-8, 2.2e-8, 1.22e-8, 1.8e-8,
  4.4e-8, 3.2e-7, 2.7e-8, 6.5e-8, 6.8e-8, 2.4e-7, 9.0e-8, 4.4e-8, 2.8e-8, 4.0e-8,
  1.0e-7, 5.9e-8, 4.0e-8, 1.7e-7, 4.4e-8, 3.0e-8, 2.4e-8, 4.0e-8, 3.3e-7, 3.6e-8,
  1.8e-8, 4.0e-8, 1.35e-7, 2.2e-8, 4.8e-8, 1.0e-7, 3.3e-8, 3.0e-8, 5.3e-8, 1.7e-7,
  7.2e-8, 6.8e-7, 2.4e-7, 8.0e-8, 3.6e-8, 3.3e-8, 3.5e-7, 2.5e-7, 7.9e-8, 4.0e-7,
  3.6e-8, 5.9e-8, 2.1e-7, 8.7e-8, 3.5e-7, 9.6e-8, 7.5e-8, 1.17e-7, 2.8e-7, 2.0e-7,
];

// axes
const xTickHours = [0, 8, 16, 24, 32, 40, 48, 56, 64, 72];
const xTickLabels: (string | string[])[] = [
  ['00:00', 'Dec 24'], '08:00', '16:00', ['00:00', 'Dec 25'], '08:00', '16:00',
  ['00:00', 'Dec 26'], '08:00', '16:00', ['00:00', 'Dec 27'],
];
const dayLines = [24, 48];
const yDecades = [1e-9, 1e-8, 1e-7, 1e-6, 1e-5, 1e-4, 1e-3, 1e-2];
const yTickLabels = ['', '10⁻⁸', '10⁻⁷', '10⁻⁶', '10⁻⁵', '10⁻⁴', '10⁻³', ''];
const minorSteps = [2, 3, 4, 5, 6, 7, 8, 9];
const classFlux = [3.16e-8, 3.16e-7, 3.16e-6, 3.16e-5, 3.16e-4];
const classLabels = ['A', 'B', 'C', 'M', 'X'];

const FONT = "'DejaVu Sans', sans-serif";
const GOLD = '#ffd000';
const legendOrder = [2, 3, 0, 1];
const legendCols = [841, 1034];
const legendRows = [37, 61];

const toPoints = (times: number[], values: (number | null)[]) =>
  times.map((t, i) => ({ x: t, y: values[i] }));

const goesExtras = {
  id: 'goesExtras',
  afterDatasetsDraw(chart: any) {
    const { ctx, chartArea: a, scales } = chart;
    const xs = scales.x;
    const ys = scales.y;
    ctx.save();

    ctx.strokeStyle = '#000';
    ctx.lineWidth = 1.3;
    dayLines.forEach((h) => {
      const px = Math.round(xs.getPixelForValue(h)) + 0.5;
      ctx.beginPath();
      ctx.moveTo(px, a.top);
      ctx.lineTo(px, a.bottom);
      ctx.stroke();
    });

    // inward ticks
    ctx.lineWidth = 1;
    const hTick = (py: number, len: number) => {
      ctx.beginPath();
      ctx.moveTo(a.left, py);
      ctx.lineTo(a.left + len, py);
      ctx.moveTo(a.right, py);
      ctx.lineTo(a.right - len, py);
      ctx.stroke();
    };
    yDecades.forEach((d, i) => {
      hTick(Math.round(ys.getPixelForValue(d)) + 0.5, 10);
      if (i < yDecades.length - 1) {
        minorSteps.forEach((m) => hTick(Math.round(ys.getPixelForValue(d * m)) + 0.5, 7));
      }
    });
    xTickHours.forEach((h) => {
      const px = Math.round(xs.getPixelForValue(h)) + 0.5;
      ctx.beginPath();
      ctx.moveTo(px, a.bottom);
      ctx.lineTo(px, a.bottom - 9);
      ctx.stroke();
    });

    ctx.lineWidth = 1.6;
    ctx.strokeRect(a.left, a.top, a.right - a.left, a.bottom - a.top);

    ctx.fillStyle = '#000';
    ctx.font = `22px ${FONT}`;
    ctx.textAlign = 'center';
    ctx.textBaseline = 'middle';
    ctx.save();
    ctx.translate(1973, (a.top + a.bottom) / 2);
    ctx.rotate(-Math.PI / 2);
    ctx.fillText('GOES Class', 0, 0);
    ctx.restore();

    ctx.font = `15px ${FONT}`;
    ctx.textAlign = 'right';
    ctx.textBaseline = 'alphabetic';
    ctx.fillText('SolarMonitor.org : 26-Dec-2022 23:34 UTC', 1915, 549);

    // legend
    ctx.beginPath();
    ctx.roundRect(837.5, 23.5, 367, 51, 4);
    ctx.fillStyle = 'rgba(255,255,255,0.8)';
    ctx.fill();
    ctx.strokeStyle = '#cccccc';
    ctx.lineWidth = 1;
    ctx.stroke();
    legendOrder.forEach((di, k) => {
      const ds = chart.data.datasets[di];
      const lx = legendCols[Math.floor(k / 2)];
      const ly = legendRows[k % 2];
      ctx.strokeStyle = ds.borderColor;
      ctx.lineWidth = 1.6;
      ctx.beginPath();
      ctx.moveTo(lx, ly + 0.5);
      ctx.lineTo(lx + 28, ly + 0.5);
      ctx.stroke();
      const label: string = ds.label;
      const main = label.slice(0, -1);
      ctx.fillStyle = '#000';
      ctx.textAlign = 'left';
      ctx.textBaseline = 'middle';
      ctx.font = `14px ${FONT}`;
      ctx.fillText(main, lx + 41, ly);
      const w = ctx.measureText(main).width;
      ctx.font = `italic 14px ${FONT}`;
      ctx.fillText(label.slice(-1), lx + 41 + w + 1, ly);
    });

    ctx.restore();
  },
};

const App: React.FC = () => {
  const chartRef = useRef<HTMLCanvasElement>(null);
  const chartInstance = useRef<Chart>();

  useEffect(() => {
    if (chartRef.current) {
      Chart.defaults.font.family = FONT;
      Chart.defaults.color = '#000';
      chartInstance.current = new Chart(chartRef.current, {
        type: 'line',
        data: {
          datasets: [
            {
              label: 'GOES-16 1.0-8.0Å',
              data: toPoints(longTimes, goes16Long),
              borderColor: '#ff0000',
              borderWidth: 1.8,
            },
            {
              label: 'GOES-16 0.5-4.0Å',
              data: toPoints(goes16ShortTimes, goes16Short),
              borderColor: '#0000ff',
              borderWidth: 1.8,
            },
            {
              label: 'GOES-17 1.0-8.0Å',
              data: toPoints(longTimes, goes17Long),
              borderColor: GOLD,
              borderWidth: 1.8,
            },
            {
              label: 'GOES-17 0.5-4.0Å',
              data: toPoints(goes17ShortTimes, goes17Short),
              borderColor: '#00ffff',
              borderWidth: 1.5,
            },
          ] as any,
        },
        options: {
          animation: false,
          responsive: false,
          devicePixelRatio: 1,
          layout: { padding: { top: 15, left: 0, right: 0, bottom: 0 } },
          elements: {
            point: { radius: 0 },
            line: { tension: 0, borderJoinStyle: 'round', fill: false },
          },
          spanGaps: false,
          plugins: {
            legend: { display: false },
            tooltip: { enabled: false },
          },
          scales: {
            x: {
              type: 'linear',
              min: 0,
              max: 72,
              afterBuildTicks: (s: any) => {
                s.ticks = xTickHours.map((v) => ({ value: v }));
              },
              afterFit: (s: any) => {
                s.height = 89;
              },
              grid: { display: false, drawTicks: false },
              border: { display: false },
              ticks: {
                autoSkip: false,
                maxRotation: 0,
                padding: 5,
                font: { size: 22, lineHeight: 1.0 },
                callback: (_v: any, i: number) => xTickLabels[i],
              },
              title: {
                display: true,
                text: 'Time (UTC)',
                font: { size: 22 },
                padding: { top: 0, bottom: 12 },
              },
            },
            y: {
              type: 'logarithmic',
              position: 'left',
              min: 1e-9,
              max: 1e-2,
              afterBuildTicks: (s: any) => {
                s.ticks = yDecades.map((v) => ({ value: v }));
              },
              afterFit: (s: any) => {
                s.width = 103;
              },
              grid: {
                drawTicks: false,
                lineWidth: 1,
                color: (c: any) =>
                  c.index === 0 || c.index === yDecades.length - 1 ? 'rgba(0,0,0,0)' : '#b0b0b0',
              },
              border: { display: false },
              ticks: {
                autoSkip: false,
                padding: 6,
                font: { size: 22 },
                callback: (_v: any, i: number) => yTickLabels[i],
              },
              title: {
                display: true,
                text: 'Flux (Watts · m⁻²)',
                font: { size: 22 },
                padding: { top: 12, bottom: 0 },
              },
            },
            y2: {
              type: 'logarithmic',
              position: 'right',
              min: 1e-9,
              max: 1e-2,
              afterBuildTicks: (s: any) => {
                s.ticks = classFlux.map((v) => ({ value: v }));
              },
              afterFit: (s: any) => {
                s.width = 64;
              },
              grid: { display: false, drawTicks: false },
              border: { display: false },
              ticks: {
                autoSkip: false,
                padding: 5,
                font: { size: 22 },
                callback: (_v: any, i: number) => classLabels[i],
              },
            },
          },
        } as any,
        plugins: [goesExtras],
      });
    }

    return () => {
      if (chartInstance.current) {
        chartInstance.current.destroy();
      }
    };
  }, []);

  return (
    <div style={{ position: 'absolute', left: 0, top: 0, width: 2000, height: 650, background: '#fff' }}>
      <canvas ref={chartRef} width={2000} height={650} />
    </div>
  );
};

export default App;
